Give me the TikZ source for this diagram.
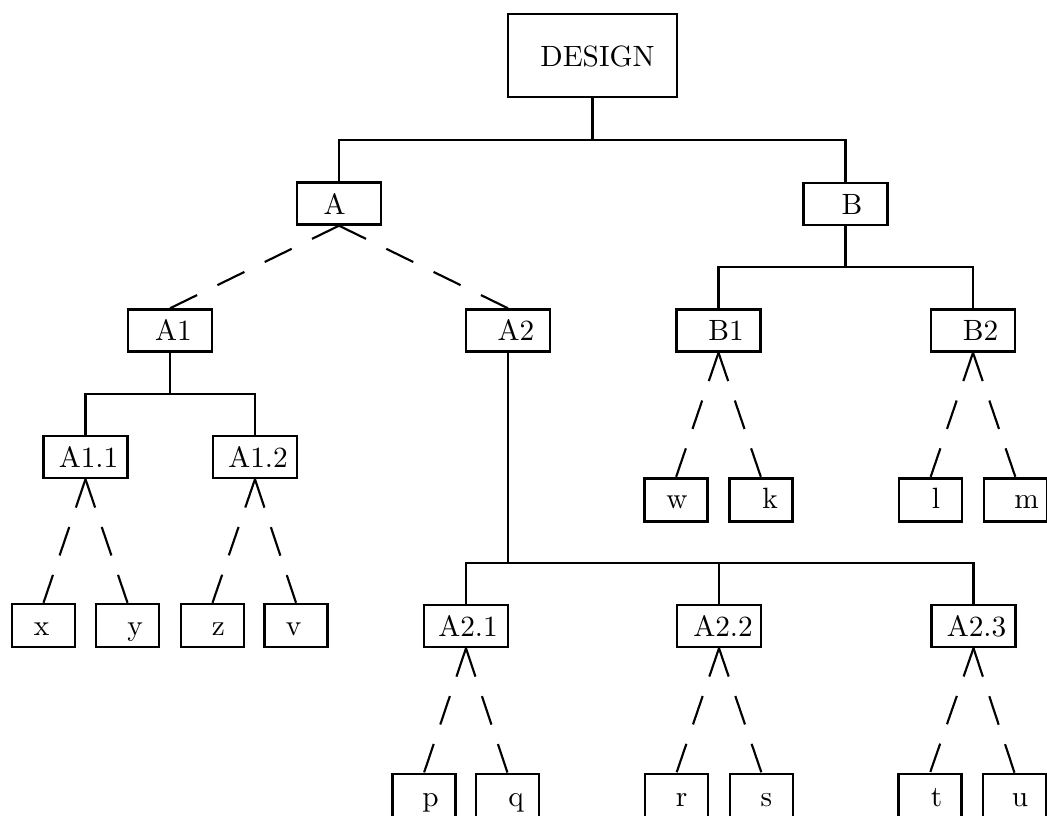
\documentclass[tikz,border=0pt]{standalone}
\usepackage{fontspec}
\setmainfont{lmroman10-regular.otf}
\tikzset{
  bx/.style={draw, line width=1.8pt, inner sep=0pt, minimum width=63pt, minimum height=31.5pt},
  lf/.style={bx, minimum width=47.5pt, minimum height=32.25pt},
  topbox/.style={bx, minimum width=126.75pt, minimum height=62.25pt},
  lbl/.style={anchor=base, inner sep=0pt, font=\fontsize{22}{26}\selectfont},
  conn/.style={line width=1.8pt},
  dshlong/.style={line width=1.6pt, dash pattern=on 22.5pt off 17pt},
  dshshort/.style={line width=1.6pt, dash pattern=on 22.5pt off 15.4pt},
}
\begin{document}
\begin{tikzpicture}[x=0.75pt, y=-0.75pt]
\useasboundingbox (0,0) rectangle (1047,816);
\clip (0,0) rectangle (1047,816);
% boxes
\node[topbox] (D) at (592.5,55.5) {};
\node[bx] (A) at (339,203.5) {};
\node[bx] (B) at (845.5,204) {};
\node[bx] (A1) at (170,330.5) {};
\node[bx] (A2) at (508,330.5) {};
\node[bx] (B1) at (718.5,330.5) {};
\node[bx] (B2) at (973,330.5) {};
\node[bx] (A11) at (85.5,457) {};
\node[bx] (A12) at (255,457) {};
\node[bx] (A21) at (466,626) {};
\node[bx] (A22) at (719,626) {};
\node[bx] (A23) at (973.5,626) {};
\node[lf] (x) at (43.5,625.5) {};
\node[lf] (y) at (127.5,625.5) {};
\node[lf] (z) at (212.5,625.5) {};
\node[lf] (v) at (296,625.5) {};
\node[lf] (w) at (676,500) {};
\node[lf] (k) at (761,500) {};
\node[lf] (l) at (930.5,500) {};
\node[lf] (m) at (1015.5,500) {};
\node[lf] (p) at (424,795.5) {};
\node[lf] (q) at (507.5,795.5) {};
\node[lf] (r) at (676.5,795.5) {};
\node[lf] (s) at (761.5,795.5) {};
\node[lf] (t) at (930,795.5) {};
\node[lf] (u) at (1014.5,795.5) {};
% labels
\node[lbl] (tD) at (597.5,67) {DESIGN};
\node[lbl] (tA) at (334.5,215) {A};
\node[lbl] (tB) at (852,215) {B};
\node[lbl] (tA1) at (173.5,341) {A1};
\node[lbl] (tA2) at (516,341) {A2};
\node[lbl] (tB1) at (726,341) {B1};
\node[lbl] (tB2) at (980.5,341) {B2};
\node[lbl] (tA11) at (88.5,468) {A1.1};
\node[lbl] (tA12) at (258,468) {A1.2};
\node[lbl] (tA21) at (468,637) {A2.1};
\node[lbl] (tA22) at (723,637) {A2.2};
\node[lbl] (tA23) at (976.5,637) {A2.3};
\node[lbl] (tx) at (41.5,635) {x};
\node[lbl] (ty) at (135,635) {y};
\node[lbl] (tz) at (218.5,635) {z};
\node[lbl] (tv) at (293.5,635) {v};
\node[lbl] (tw) at (677,509) {w};
\node[lbl] (tk) at (770,509) {k};
\node[lbl] (tl) at (936,509) {l};
\node[lbl] (tm) at (1026.5,509) {m};
\node[lbl] (tp) at (430.5,806) {p};
\node[lbl] (tq) at (516,806) {q};
\node[lbl] (tr) at (681.5,806) {r};
\node[lbl] (ts) at (766.5,806) {s};
\node[lbl] (tt) at (936.5,806) {t};
\node[lbl] (tu) at (1020,806) {u};
% solid connectors
\coordinate (jD) at (592.5,140);
\draw[conn] (D.south) -- (jD);
\draw[conn] (A.north) |- (jD) -| (B.north);
\coordinate (jB) at (845.5,267);
\draw[conn] (B.south) -- (jB);
\draw[conn] (B1.north) |- (jB) -| (B2.north);
\coordinate (jA1) at (170,394);
\draw[conn] (A1.south) -- (jA1);
\draw[conn] (A11.north) |- (jA1) -| (A12.north);
\coordinate (jA2) at (508,563);
\draw[conn] (A2.south) -- (jA2);
\draw[conn] (A21.north) |- (jA2) -| (A23.north);
\draw[conn] (A22.north) -- (A22.north |- jA2);
% dashed connectors
\draw[dshlong] (A.south) -- (A1.north);
\draw[dshlong] (A.south) -- (A2.north);
\draw[dshshort] (A11.south) -- (x.north);
\draw[dshshort] (A11.south) -- (y.north);
\draw[dshshort] (A12.south) -- (z.north);
\draw[dshshort] (A12.south) -- (v.north);
\draw[dshshort] (B1.south) -- (w.north);
\draw[dshshort] (B1.south) -- (k.north);
\draw[dshshort] (B2.south) -- (l.north);
\draw[dshshort] (B2.south) -- (m.north);
\draw[dshshort] (A21.south) -- (p.north);
\draw[dshshort] (A21.south) -- (q.north);
\draw[dshshort] (A22.south) -- (r.north);
\draw[dshshort] (A22.south) -- (s.north);
\draw[dshshort] (A23.south) -- (t.north);
\draw[dshshort] (A23.south) -- (u.north);
\end{tikzpicture}
\end{document}
